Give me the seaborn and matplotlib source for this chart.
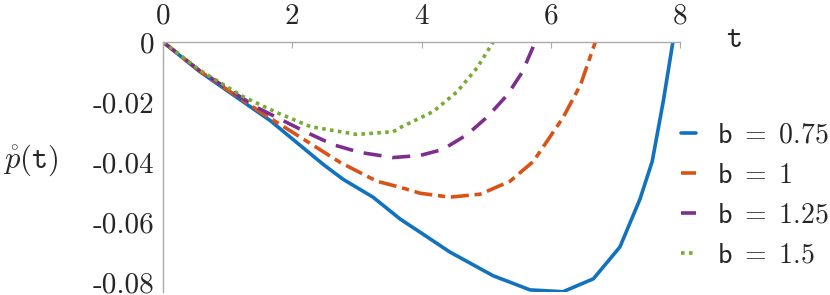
import matplotlib
matplotlib.use('Agg')
import matplotlib.pyplot as plt
import numpy as np
import pandas as pd
import seaborn as sns

# values
t_b075 = [0, 0.57, 1.66, 2.48, 2.79, 3.25, 3.67, 3.98, 4.44, 5.11, 5.68, 6.19, 6.66, 7.07, 7.38, 7.57, 7.74, 7.89]
p_b075 = [0, -0.0099, -0.0262, -0.0408, -0.0458, -0.0517, -0.0590, -0.0634, -0.0700, -0.0779, -0.0826, -0.0832,
          -0.0789, -0.0683, -0.0524, -0.0398, -0.0199, 0.0]

t_b1 = [0, 0.57, 1.50, 2.74, 3.31, 3.67, 3.98, 4.44, 4.91, 5.37, 5.73, 6.19, 6.46, 6.69]
p_b1 = [0, -0.0097, -0.0232, -0.0401, -0.0464, -0.0484, -0.0504, -0.0517, -0.0507, -0.0464, -0.0398, -0.0252,
        -0.0143, 0.0]

t_b125 = [0, 0.57, 1.46, 2.23, 2.63, 3.05, 3.56, 3.98, 4.33, 4.71, 5.02, 5.33, 5.56, 5.76]
p_b125 = [0, -0.0096, -0.0219, -0.0302, -0.0342, -0.0368, -0.0385, -0.0378, -0.0358, -0.0308, -0.0249, -0.0176,
          -0.0100, 0.0]

t_b15 = [0, 0.57, 1.24, 1.76, 2.28, 3.00, 3.56, 3.70, 4.18, 4.55, 4.86, 5.11]
p_b15 = [0, -0.0094, -0.0182, -0.0235, -0.0282, -0.0308, -0.0299, -0.0282, -0.0232, -0.0166, -0.0086, 0.0]

labels = [r'$\mathsf{b}\ =\ 0.75$', r'$\mathsf{b}\ =\ 1$', r'$\mathsf{b}\ =\ 1.25$', r'$\mathsf{b}\ =\ 1.5$']
colors = ['#1272BD', '#D95319', '#7E2F8E', '#77AC30']
x_ticks = [0, 2, 4, 6, 8]
x_ticklabels = ['0', '2', '4', '6', '8']
y_ticks = [0, -0.02, -0.04, -0.06, -0.08]
y_ticklabels = ['0', '-0.02', '-0.04', '-0.06', '-0.08']

sns.set_style('white')
plt.rcParams['font.family'] = ['cmr10', 'DejaVu Serif']
plt.rcParams['mathtext.fontset'] = 'cm'
plt.rcParams['axes.unicode_minus'] = False
plt.rcParams['axes.formatter.use_mathtext'] = True

series = [(t_b075, p_b075), (t_b1, p_b1), (t_b125, p_b125), (t_b15, p_b15)]
df = pd.concat([
    pd.DataFrame({'t': t, 'p': p, 'b': lab}) for (t, p), lab in zip(series, labels)
], ignore_index=True)

fig = plt.figure(figsize=(8.3, 2.95), dpi=100)
ax = fig.add_axes([163 / 830, 1 - 292 / 295, (680 - 163) / 830, (292 - 42) / 295])

dashes = {
    labels[0]: '',
    labels[1]: (5, 1.6, 2, 1.6),
    labels[2]: (5, 3),
    labels[3]: (1, 1.2),
}
sns.lineplot(data=df, x='t', y='p', hue='b', style='b', hue_order=labels, style_order=labels,
             palette=colors, dashes=dashes, estimator=None, sort=False, linewidth=2.6, ax=ax)

ax.set_xlim(0, 8)
ax.set_ylim(-0.0833, 0)
ax.set_xlabel('')
ax.set_ylabel('')

for side in ['right', 'bottom']:
    ax.spines[side].set_visible(False)
for side in ['left', 'top']:
    ax.spines[side].set_color('#aaaaaa')
    ax.spines[side].set_linewidth(1.0)

ax.xaxis.tick_top()
ax.set_xticks(x_ticks)
ax.set_xticklabels(x_ticklabels)
ax.set_yticks(y_ticks)
ax.set_yticklabels(y_ticklabels)
ax.tick_params(axis='x', direction='in', length=4, width=0.8, color='#aaaaaa', pad=9, labelsize=21)
ax.tick_params(axis='y', direction='in', length=4, width=0.8, color='#aaaaaa', pad=6, labelsize=21)

fig.text(734 / 830, 1 - 39 / 295, r'$\mathtt{t}$', fontsize=22, ha='center', va='center')
fig.text(31 / 830, 1 - 160 / 295, r'$\mathring{p}(\mathtt{t})$', fontsize=22, ha='center', va='center')

leg = ax.legend(loc='upper left', bbox_to_anchor=(681 / 830, 1 - 122 / 295), bbox_transform=fig.transFigure,
                frameon=False, fontsize=20, handlelength=0.55, handletextpad=0.75, labelspacing=0.5,
                borderpad=0, borderaxespad=0)

fig.savefig('out.png', dpi=100)
